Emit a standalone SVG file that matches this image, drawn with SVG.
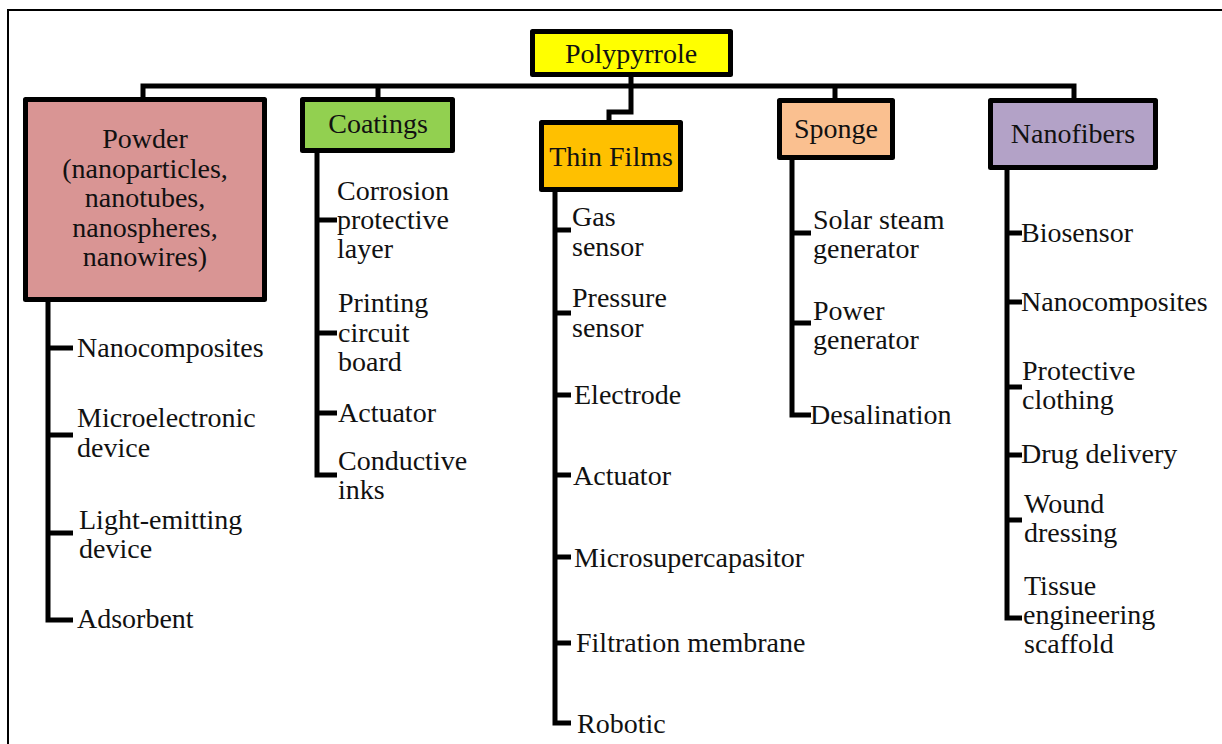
<svg xmlns="http://www.w3.org/2000/svg" width="1222" height="744" viewBox="0 0 1222 744" font-family="'Liberation Serif', 'DejaVu Serif', serif">
  <style>
    text { font-size: 28px; fill: #111; }
    .title { text-anchor: middle; }
    .box { stroke: #000; stroke-width: 5; stroke-linejoin: round; }
    .wire { fill: none; stroke: #000; stroke-width: 5; stroke-linejoin: miter; }
    .frame { fill: none; stroke: #000; stroke-width: 2; }
  </style>

  <rect x="0" y="0" width="1222" height="744" fill="#fff"/>
  <path class="frame" d="M8,744 V10 H1222"/>

  <!-- connectors: root bus, branch drops and item trunks -->
  <g id="connectors">
    <path class="wire" d="M143,99 V86 H1074 V100"/>
    <path class="wire" d="M378,86 V99"/>
    <path class="wire" d="M835,86 V100"/>
    <path class="wire" d="M631,76 V112 H609 V122"/>

    <path class="wire" d="M48,302 V620 H73 M48,348 H73 M48,435 H73 M48,533 H73"/>
    <path class="wire" d="M317,153 V475 H337 M317,220 H337 M317,333 H337 M317,413 H337"/>
    <path class="wire" d="M555,192 V723 H571 M555,230 H571 M555,313 H571 M555,395 H571 M555,475 H571 M555,557 H571 M555,643 H571"/>
    <path class="wire" d="M792,160 V415 H811 M792,233 H811 M792,323 H811"/>
    <path class="wire" d="M1007,170 V618 H1022 M1007,233 H1022 M1007,302 H1022 M1007,387 H1022 M1007,455 H1022 M1007,520 H1022"/>
  </g>

  <g id="polypyrrole">
    <rect class="box" x="532.5" y="31.5" width="198" height="43" fill="#FFFF00"/>
    <text class="title" x="631" y="63">Polypyrrole</text>
  </g>

  <g id="powder">
    <rect class="box" x="25.5" y="99.5" width="239" height="200" fill="#D99594"/>
    <text class="title" x="145" y="148">Powder</text>
    <text class="title" x="145" y="178">(nanoparticles,</text>
    <text class="title" x="145" y="207">nanotubes,</text>
    <text class="title" x="145" y="237">nanospheres,</text>
    <text class="title" x="145" y="266">nanowires)</text>
    <text x="77" y="357">Nanocomposites</text>
    <text x="77" y="427">Microelectronic</text>
    <text x="77" y="457">device</text>
    <text x="79" y="529">Light-emitting</text>
    <text x="79" y="558">device</text>
    <text x="77" y="628">Adsorbent</text>
  </g>

  <g id="coatings">
    <rect class="box" x="302.5" y="99.5" width="150" height="51" fill="#92D050"/>
    <text class="title" x="378" y="133">Coatings</text>
    <text x="337" y="200">Corrosion</text>
    <text x="337" y="229">protective</text>
    <text x="337" y="258">layer</text>
    <text x="338" y="312">Printing</text>
    <text x="338" y="342">circuit</text>
    <text x="338" y="371">board</text>
    <text x="338" y="422">Actuator</text>
    <text x="338" y="470">Conductive</text>
    <text x="338" y="499">inks</text>
  </g>

  <g id="thin-films">
    <rect class="box" x="541.5" y="122.5" width="139" height="67" fill="#FFC000"/>
    <text class="title" x="611" y="166">Thin Films</text>
    <text x="572" y="226">Gas</text>
    <text x="572" y="256">sensor</text>
    <text x="572" y="307">Pressure</text>
    <text x="572" y="337">sensor</text>
    <text x="574" y="404">Electrode</text>
    <text x="573" y="485">Actuator</text>
    <text x="574" y="567">Microsupercapasitor</text>
    <text x="576" y="652">Filtration membrane</text>
    <text x="577" y="733">Robotic</text>
  </g>

  <g id="sponge">
    <rect class="box" x="779.5" y="100.5" width="113" height="57" fill="#FAC090"/>
    <text class="title" x="836" y="138">Sponge</text>
    <text x="813" y="229">Solar steam</text>
    <text x="813" y="258">generator</text>
    <text x="813" y="320">Power</text>
    <text x="813" y="349">generator</text>
    <text x="810" y="424">Desalination</text>
  </g>

  <g id="nanofibers">
    <rect class="box" x="990.5" y="100.5" width="165" height="67" fill="#B3A2C7"/>
    <text class="title" x="1073" y="143">Nanofibers</text>
    <text x="1021" y="242">Biosensor</text>
    <text x="1021" y="311">Nanocomposites</text>
    <text x="1022" y="380">Protective</text>
    <text x="1022" y="409">clothing</text>
    <text x="1021" y="463">Drug delivery</text>
    <text x="1024" y="513">Wound</text>
    <text x="1024" y="542">dressing</text>
    <text x="1024" y="595">Tissue</text>
    <text x="1023" y="624">engineering</text>
    <text x="1024" y="653">scaffold</text>
  </g>
</svg>
